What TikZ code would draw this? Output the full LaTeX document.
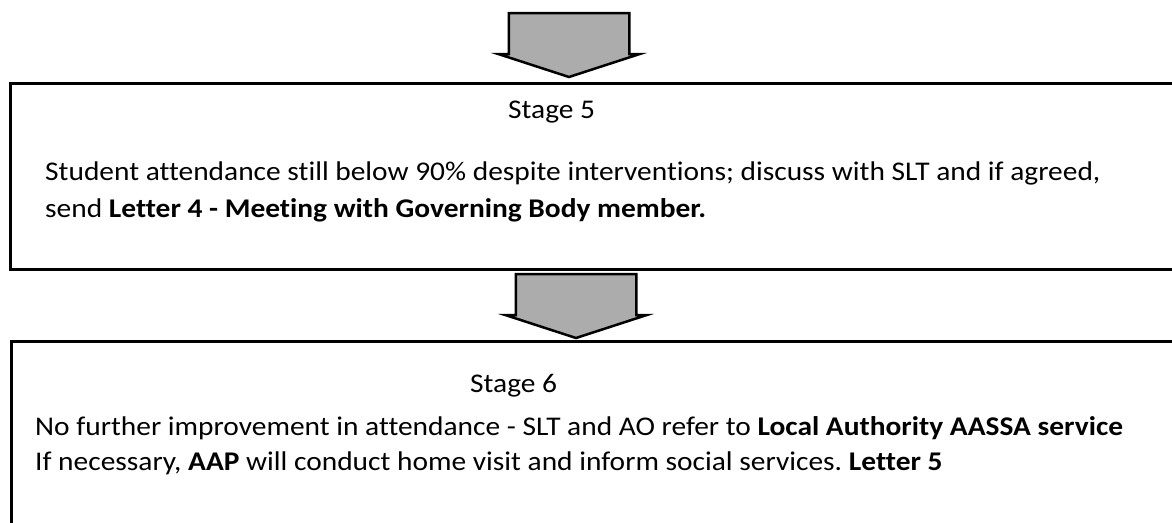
\documentclass[tikz,border=0pt]{standalone}
\usepackage{fontspec}
\setmainfont{Carlito}[FakeStretch=1.09, Ligatures=NoCommon]
\usetikzlibrary{shapes.arrows}
\frenchspacing

\definecolor{grisflecha}{RGB}{172,172,172}

\tikzset{
  caja/.style={draw, line width=3pt, minimum width=1180pt, anchor=north west, inner sep=0pt, outer sep=0pt},
  flecha/.style={single arrow, draw, line width=2.5pt, fill=grisflecha, rotate=-90,
    minimum height=64pt, inner xsep=0pt, inner ysep=59pt, single arrow head extend=10pt,
    single arrow tip angle=144, outer sep=0pt, anchor=tail},
  texto/.style={font=\fontsize{27}{37}\selectfont, inner sep=0pt, anchor=base west}
}

\begin{document}
\begin{tikzpicture}[x=1pt, y=-1pt]
    \useasboundingbox (0,0) rectangle (1172,522);
    \clip (0,0) rectangle (1172,522);

    % Flecha de entrada
    \node[flecha] (flecha1) at (569,13) {};

    % Caja de la etapa 5
    \node[caja, minimum height=186pt] (etapa5) at (10,83) {};
    \node[texto] (titulo5) at (508,118) {Stage 5};
    \node[texto] (linea5a) at (45,180) {Student attendance still below 90\% despite interventions; discuss with SLT and if agreed,};
    \node[texto] (linea5b) at (45,217) {send \textbf{Letter 4 - Meeting with Governing Body member.}};

    % Flecha entre etapas
    \node[flecha] (flecha2) at (576,274) {};

    % Caja de la etapa 6
    \node[caja, minimum height=250pt] (etapa6) at (11,341) {};
    \node[texto] (titulo6) at (470,392) {Stage 6};
    \node[texto] (linea6a) at (35,435) {No further improvement in attendance - SLT and AO refer to \textbf{Local Authority AASSA service}};
    \node[texto] (linea6b) at (35,470) {If necessary, \textbf{AAP} will conduct home visit and inform social services. \textbf{Letter 5}};

\end{tikzpicture}
\end{document}
